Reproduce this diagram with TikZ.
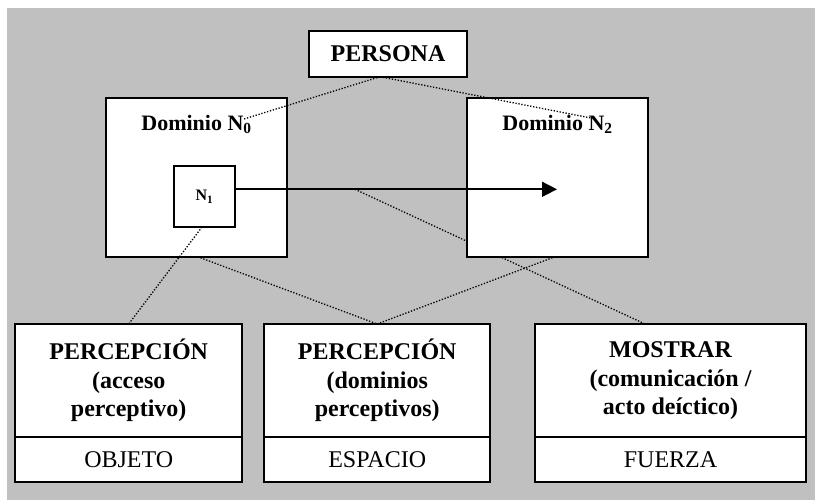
\documentclass[tikz,border=0pt]{standalone}
\usepackage{fontspec}
\setmainfont{Liberation Serif}
\usetikzlibrary{arrows.meta}
\definecolor{bggray}{HTML}{C0C0C0}
\tikzset{
  box/.style={draw=black, fill=white, line width=1.8pt, inner sep=0pt, outer sep=0pt},
  bigtxt/.style={font=\fontsize{24}{28.5}\selectfont\bfseries, align=center},
  smalltxt/.style={font=\fontsize{24}{28.5}\selectfont},
  domlab/.style={font=\fontsize{22}{26}\selectfont\bfseries, inner sep=0pt, anchor=base},
  dotline/.style={draw=black, line width=1.3pt, dash pattern=on 1.3pt off 1.7pt},
  mainarrow/.style={draw=black, line width=1.6pt, -{Triangle[length=15pt,width=15pt]}}
}
\begin{document}
\begin{tikzpicture}[x=1pt,y=-1pt]
\useasboundingbox (0,0) rectangle (815,500);
\fill[bggray] (7,8) rectangle (815,500);

% bottom boxes
\node[box, bigtxt, minimum width=226.7pt, minimum height=113.3pt, anchor=north] (p1top) at (128.7,324) {PERCEPCIÓN\\(acceso\\perceptivo)};
\node[box, smalltxt, minimum width=226.7pt, minimum height=45pt, anchor=north] (p1bot) at (p1top.south) {\raisebox{-2.5pt}{OBJETO}};
\node[box, bigtxt, minimum width=225.7pt, minimum height=113.3pt, anchor=north] (p2top) at (377.2,324) {PERCEPCIÓN\\(dominios\\perceptivos)};
\node[box, smalltxt, minimum width=225.7pt, minimum height=45pt, anchor=north] (p2bot) at (p2top.south) {\raisebox{-2.5pt}{ESPACIO}};
\node[box, bigtxt, minimum width=271pt, minimum height=113.3pt, anchor=north] (p3top) at (670.5,324) {MOSTRAR\\(comunicación /\\acto deíctico)};
\node[box, smalltxt, minimum width=271pt, minimum height=45pt, anchor=north] (p3bot) at (p3top.south) {\raisebox{-2.5pt}{FUERZA}};

% top nodes
\node[box, font=\fontsize{24}{28}\selectfont\bfseries, minimum width=158pt, minimum height=46pt] (persona) at (388,53.7) {\raisebox{-2pt}{PERSONA}};
\node[box, minimum width=181pt, minimum height=158.4pt] (d0) at (196.5,177.5) {};
\node[domlab] (lab0) at (196.5,130.7) {Dominio N\textsubscript{0}};
\node[box, font=\fontsize{16}{18}\selectfont\bfseries, minimum width=61pt, minimum height=61pt] (n1) at (204.5,196.5) {N\textsubscript{1}};

\draw[dotline] ([xshift=-2.5pt]n1.south) -- (p1top.north);
\draw[dotline] ([xshift=1.2pt]d0.south) -- (p2top.north);

\coordinate (as) at ([yshift=7.2pt]n1.east);
\coordinate (tip) at (557,189.3);
\coordinate (mid) at (355,189.3);
\draw[dotline] (mid) -- ([xshift=-25.5pt]p3top.north);

\node[box, minimum width=181pt, minimum height=158.4pt] (d2) at (557.5,177.5) {};
\node[domlab] (lab2) at (557.5,130.7) {Dominio N\textsubscript{2}};

\draw[dotline] (p2top.north) -- ([xshift=-2.5pt]d2.south);

\coordinate (pa) at ([xshift=-8pt]persona.south);
\coordinate (t0) at (244,119);
\coordinate (t2) at (591,118);
\draw[dotline] (pa) -- (t0);
\draw[dotline] (pa) -- (t2);

\draw[mainarrow] (as) -- (tip);
\end{tikzpicture}
\end{document}
